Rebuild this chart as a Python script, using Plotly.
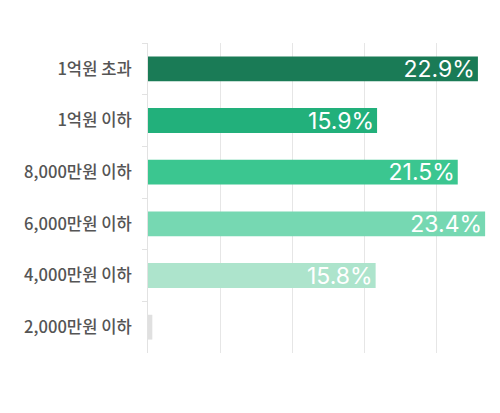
import plotly.graph_objects as go

categories = ["1억원 초과", "1억원 이하", "8,000만원 이하", "6,000만원 이하", "4,000만원 이하", "2,000만원 이하"]
values = [22.9, 15.9, 21.5, 23.4, 15.8, 0.3]
colors = ["#1a7b56", "#22b07b", "#3bc690", "#76d8b2", "#ade4cc", "#e0e0e0"]
x_ticks = [0, 5, 10, 15, 20]

labels = [f"{v}%" if v >= 1 else "" for v in values]

fig = go.Figure(go.Bar(
    y=categories,
    x=values,
    orientation="h",
    marker=dict(color=colors, line=dict(width=0)),
    width=0.48,
    text=labels,
    textposition="inside",
    insidetextanchor="end",
    constraintext="none",
    textfont=dict(family="Inter, Noto Sans, sans-serif", size=23, color="white"),
    hoverinfo="skip",
))

fig.update_layout(
    width=492, height=405,
    margin=dict(l=140, r=12, t=35, b=60),
    paper_bgcolor="white",
    plot_bgcolor="white",
    showlegend=False,
    xaxis=dict(
        range=[0, 23.6],
        tickvals=x_ticks,
        showticklabels=False,
        showgrid=True,
        gridcolor="#e6e6e6",
        gridwidth=1,
        zeroline=False,
        showline=False,
        fixedrange=True,
        automargin=False,
    ),
    yaxis=dict(
        autorange="reversed",
        automargin=False,
        showline=True,
        linecolor="#e2e2e2",
        linewidth=1,
        ticks="outside",
        tickson="boundaries",
        ticklen=5,
        tickcolor="#e2e2e2",
        ticklabelstandoff=12,
        showgrid=False,
        tickfont=dict(family="Noto Sans CJK KR, sans-serif", size=16.6, color="#555555", weight=500),
    ),
)

fig.write_html("out.html")
